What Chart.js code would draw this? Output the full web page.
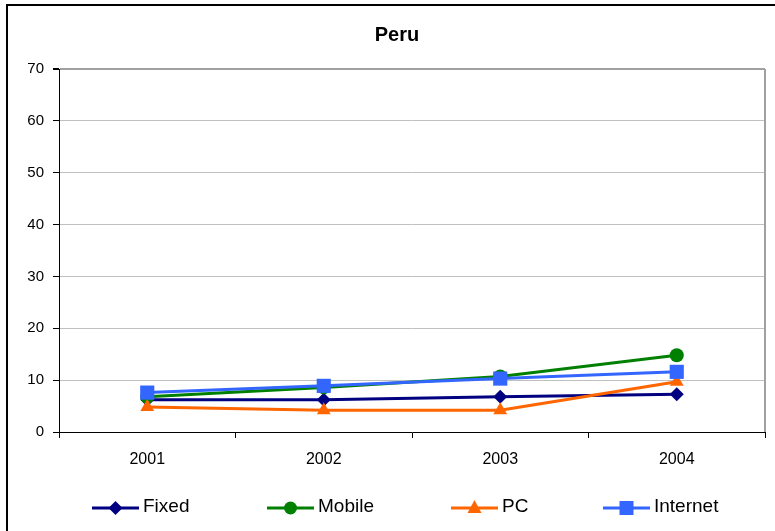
<!DOCTYPE html>
<html>
<head>
<meta charset="utf-8">
<script src="https://cdn.jsdelivr.net/npm/chart.js@4"></script>
<style>
body{margin:0;background:#fff;}
canvas{display:block;}
</style>
</head>
<body>
<canvas id="peruChart" width="775" height="531"></canvas>
<script>
const years = ["2001", "2002", "2003", "2004"];
const fixedData = [6.2, 6.2, 6.8, 7.3];
const mobileData = [6.8, 8.6, 10.7, 14.8];
const pcData = [4.8, 4.2, 4.2, 9.7];
const internetData = [7.6, 8.9, 10.3, 11.6];
const yTicks = [0, 10, 20, 30, 40, 50, 60, 70];

const FONT = "'Liberation Sans', Arial, sans-serif";

// legend line start x for each series (legend is drawn by hand, Excel style)
const legendX = [92, 267, 451, 603];

function marker(ctx, style, x, y, color){
    ctx.save();
    ctx.fillStyle = color;
    ctx.beginPath();
    if(style === "rectRot"){
        ctx.moveTo(x, y-7); ctx.lineTo(x+7, y); ctx.lineTo(x, y+7); ctx.lineTo(x-7, y);
    } else if(style === "circle"){
        ctx.arc(x, y, 6.5, 0, Math.PI*2);
    } else if(style === "triangle"){
        ctx.moveTo(x, y-8); ctx.lineTo(x+7, y+5); ctx.lineTo(x-7, y+5);
    } else {
        ctx.rect(x-7, y-7, 14, 14);
    }
    ctx.closePath();
    ctx.fill();
    ctx.restore();
}

const decor = {
    id: "decor",
    afterDraw(chart){
        const ctx = chart.ctx;
        const a = chart.chartArea;
        ctx.save();
        // outer frame
        ctx.strokeStyle = "#000";
        ctx.lineWidth = 2;
        ctx.beginPath();
        ctx.moveTo(7, 531); ctx.lineTo(7, 5); ctx.lineTo(775, 5);
        ctx.stroke();
        // plot area right edge
        ctx.strokeStyle = "#a0a0a0";
        ctx.lineWidth = 2;
        ctx.beginPath();
        ctx.moveTo(a.right, a.top); ctx.lineTo(a.right, a.bottom);
        ctx.stroke();
        // title
        ctx.fillStyle = "#000";
        ctx.font = "bold 20px " + FONT;
        ctx.textAlign = "center";
        ctx.textBaseline = "alphabetic";
        ctx.fillText("Peru", 397, 41);
        // legend
        ctx.font = "19px " + FONT;
        ctx.textAlign = "left";
        chart.data.datasets.forEach((ds, i) => {
            const x0 = legendX[i];
            ctx.strokeStyle = ds.borderColor;
            ctx.lineWidth = 3;
            ctx.beginPath();
            ctx.moveTo(x0, 508); ctx.lineTo(x0+47, 508);
            ctx.stroke();
            marker(ctx, ds.pointStyle, x0+23.5, 508, ds.borderColor);
            ctx.fillStyle = "#000";
            ctx.fillText(ds.label, x0+51, 512);
        });
        ctx.restore();
    }
};

function series(label, data, color, style, radius, order){
    return {
        label: label,
        data: data,
        borderColor: color,
        backgroundColor: color,
        borderWidth: 3,
        pointStyle: style,
        pointRadius: radius,
        pointBorderWidth: 0,
        tension: 0,
        order: order
    };
}

new Chart(document.getElementById("peruChart"), {
    type: "line",
    data: {
        labels: years,
        datasets: [
            series("Fixed", fixedData, "#000080", "rectRot", 7, 4),
            series("Mobile", mobileData, "#008000", "circle", 7, 3),
            series("PC", pcData, "#ff6600", "triangle", 8, 2),
            series("Internet", internetData, "#3366ff", "rect", 10, 1)
        ]
    },
    options: {
        responsive: false,
        animation: false,
        layout: { padding: { top: 69, right: 8, bottom: 59, left: 0 } },
        plugins: {
            legend: { display: false },
            title: { display: false },
            tooltip: { enabled: false }
        },
        scales: {
            x: {
                offset: true,
                afterFit(scale){ scale.height = 40; },
                grid: {
                    offset: true,
                    drawOnChartArea: false,
                    tickLength: 6,
                    tickColor: "#000"
                },
                border: { color: "#000", width: 1 },
                ticks: {
                    color: "#000",
                    font: { family: FONT, size: 16 },
                    padding: 12,
                    maxRotation: 0
                }
            },
            y: {
                min: 0,
                max: 70,
                afterFit(scale){ scale.width = 59; },
                afterBuildTicks(scale){ scale.ticks = yTicks.map(v => ({ value: v })); },
                grid: {
                    color: ctx => ctx.tick && ctx.tick.value === 70 ? "#a0a0a0" : "#c0c0c0",
                    lineWidth: ctx => ctx.tick && ctx.tick.value === 70 ? 2 : 1,
                    tickLength: 6,
                    tickColor: "#000"
                },
                border: { color: "#000", width: 1 },
                ticks: {
                    color: "#000",
                    font: { family: FONT, size: 15 },
                    padding: 9
                }
            }
        }
    },
    plugins: [decor]
});
</script>
</body>
</html>
